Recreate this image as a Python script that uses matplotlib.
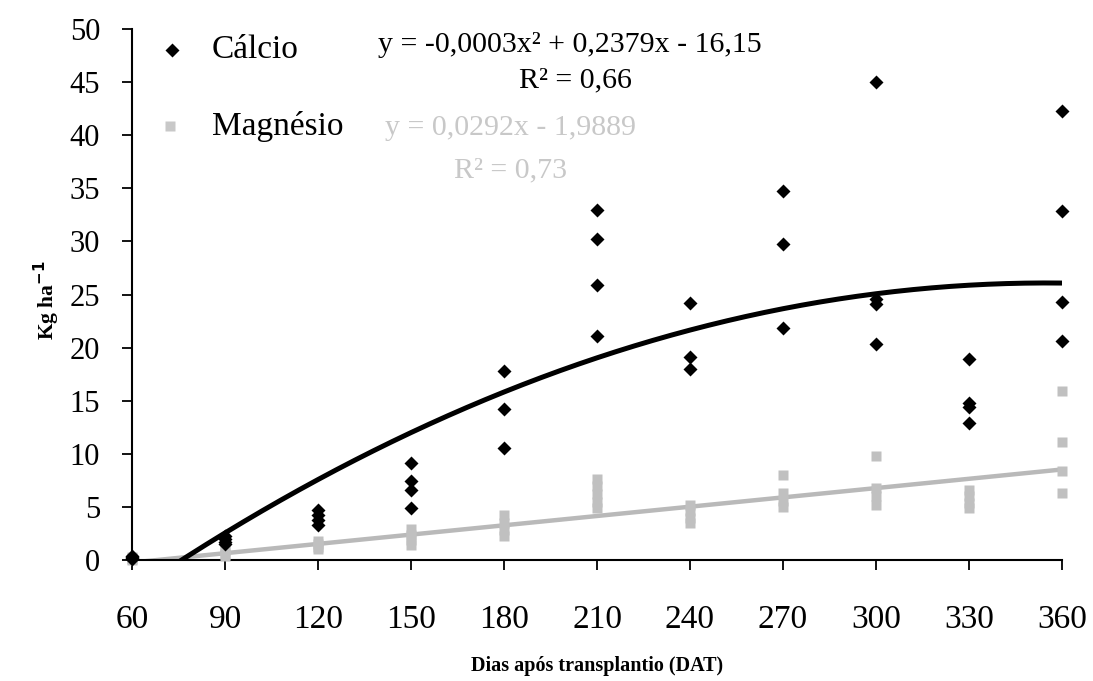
import numpy as np
import matplotlib
matplotlib.use("Agg")
import matplotlib.pyplot as plt

plt.rcParams['font.family'] = ['Liberation Serif', 'DejaVu Serif']

# Calcio (black diamonds)
ca_x = [60, 60, 60, 60,
        90, 90, 90, 90,
        120, 120, 120, 120,
        150, 150, 150, 150,
        180, 180, 180,
        210, 210, 210, 210,
        240, 240, 240,
        270, 270, 270,
        300, 300, 300, 300,
        330, 330, 330, 330,
        360, 360, 360, 360]
ca_y = [0.4, 0.3, 0.2, 0.1,
        2.3, 2.0, 1.7, 1.5,
        4.7, 4.2, 3.8, 3.3,
        9.1, 7.4, 6.6, 4.9,
        17.8, 14.2, 10.5,
        33.0, 30.2, 25.9, 21.1,
        24.2, 19.1, 18.0,
        34.7, 29.8, 21.8,
        45.0, 24.6, 24.1, 20.3,
        18.9, 14.8, 14.4, 12.9,
        42.3, 32.9, 24.3, 20.6]

# Magnesio (gray squares)
mg_x = [60, 60, 60, 60,
        90, 90, 90, 90,
        120, 120, 120, 120,
        150, 150, 150, 150,
        180, 180, 180, 180,
        210, 210, 210, 210, 210,
        240, 240, 240, 240,
        270, 270, 270, 270,
        300, 300, 300, 300,
        330, 330, 330, 330,
        360, 360, 360, 360]
mg_y = [0.3, 0.2, 0.1, 0.0,
        1.2, 0.9, 0.6, 0.4,
        1.8, 1.5, 1.2, 1.0,
        2.9, 2.4, 1.9, 1.4,
        4.2, 3.5, 2.8, 2.3,
        7.6, 7.0, 6.2, 5.5, 4.9,
        5.2, 4.6, 4.0, 3.5,
        8.0, 6.3, 5.6, 5.0,
        9.8, 6.8, 6.0, 5.2,
        6.6, 6.0, 5.4, 4.9,
        15.9, 11.1, 8.4, 6.3]

# trend coefficients (quadratic for Ca, linear for Mg)
ca_coef = [-0.000335, 0.2379, -16.15]
mg_coef = [0.0292, -1.9889]

xt = np.arange(60, 361, 30)
yt = np.arange(0, 51, 5)

W, H = 1093, 681
fig = plt.figure(figsize=(W / 100, H / 100), dpi=100)
ax = fig.add_axes([132 / W, 1 - 560 / H, (1062 - 132) / W, (560 - 29) / H])

def px(x, y):
    return x / W, 1 - y / H

xx = np.linspace(60, 360, 301)
ax.plot(xx, np.polyval(mg_coef, xx), color='#b9b9b9', lw=3.2, zorder=2)
ax.plot(xx, np.polyval(ca_coef, xx), color='black', lw=3.6, zorder=3)

ax.plot(mg_x, mg_y, 's', color='#c0c0c0', ms=6.5, mec='none', zorder=4, clip_on=False)
ax.plot(ca_x, ca_y, 'D', color='black', ms=7, mec='none', zorder=5, clip_on=False)

ax.set_xlim(60, 360)
ax.set_ylim(0, 50)
ax.set_xticks(xt)
ax.set_yticks(yt)
ax.tick_params(axis='both', direction='out', length=7, width=1.3)
ax.tick_params(axis='y', labelsize=22, pad=16)
ax.tick_params(axis='x', labelsize=24, pad=25)
ax.spines['top'].set_visible(False)
ax.spines['right'].set_visible(False)
ax.spines['left'].set_linewidth(1.5)
ax.spines['bottom'].set_linewidth(1.5)

ax.set_xlabel('Dias após transplantio (DAT)', fontsize=14.5, fontweight='bold')
ax.xaxis.set_label_coords(0.5, -0.18)
ax.set_ylabel('Kg ha$^{\\mathbf{-1}}$', fontsize=15.5, fontweight='bold')
ax.yaxis.set_label_coords(-0.075, 0.49)

# legend entries
fig.lines.append(plt.Line2D([172 / W], [1 - 50 / H], marker='D', color='black', ms=7,
                            mec='none', transform=fig.transFigure))
fig.text(*px(212, 50), 'Cálcio', fontsize=24, va='center', ha='left')
fig.lines.append(plt.Line2D([170 / W], [1 - 126 / H], marker='s', color='#c8c8c8', ms=6.5,
                            mec='none', transform=fig.transFigure))
fig.text(*px(212, 127), 'Magnésio', fontsize=24, va='center', ha='left')

fig.text(*px(570, 45), 'y = -0,0003x² + 0,2379x - 16,15', fontsize=21.5, ha='center', va='center')
fig.text(*px(575, 80), 'R² = 0,66', fontsize=21.5, ha='center', va='center')
fig.text(*px(511, 128), 'y = 0,0292x - 1,9889', fontsize=21.5, ha='center', va='center', color='#c8c8c8')
fig.text(*px(511, 170), 'R² = 0,73', fontsize=21.5, ha='center', va='center', color='#c8c8c8')

fig.savefig('out.png', dpi=100)
